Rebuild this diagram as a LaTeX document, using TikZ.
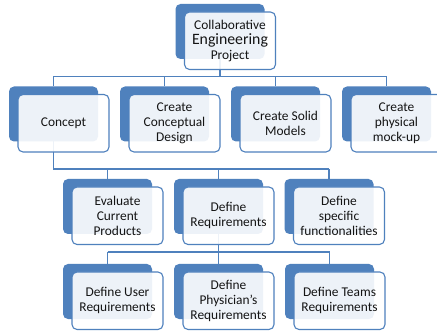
\documentclass[tikz,border=0pt]{standalone}
\usepackage{fontspec}
\setmainfont{Carlito}
\definecolor{sablue}{RGB}{79,129,189}
\pgfdeclarelayer{bg}
\pgfdeclarelayer{lines}
\pgfsetlayers{bg,lines,main}
\tikzset{
  backbox/.style={minimum width=89pt, minimum height=55pt, rounded corners=5pt,
    fill=sablue, inner sep=0pt, outer sep=0pt},
  frontbox/.style={minimum width=91pt, minimum height=57.5pt, rounded corners=5pt,
    draw=sablue, line width=1.1pt, fill=white, fill opacity=0.9, text opacity=1,
    align=center, inner sep=0pt, outer sep=0pt, font=\fontsize{13.4}{15}\selectfont, text=black!92},
  conn/.style={draw=sablue, line width=1.4pt}
}
\newcommand\smbox[4]{%
  \node[backbox] (#1B) at ({#2+44.5},{#3+27.5}) {};
  \node[frontbox] (#1F) at ({#2+54.5},{#3+36.75}) {#4};
}
\begin{document}
\begin{tikzpicture}[x=1pt,y=-1pt]
\useasboundingbox (0,0) rectangle (437,334);
\begin{pgfonlayer}{bg}
\fill[white] (0,0) rectangle (437,334);
\end{pgfonlayer}
% top
\smbox{top}{175.5}{4}{Collaborative\\{\fontsize{15.8}{16}\selectfont Engineering}\\Project}
% level 1
\smbox{concept}{9}{86.5}{Concept}
\smbox{design}{120}{86.5}{Create\\Conceptual\\Design}
\smbox{solid}{231}{86.5}{Create Solid\\Models}
\smbox{mock}{342}{86.5}{Create\\physical\\mock-up}
% level 2
\smbox{eval}{63}{179}{Evaluate\\Current\\Products}
\smbox{req}{174}{179}{Define\\Requirements}
\smbox{func}{284.5}{179}{Define\\specific\\functionalities}
% level 3
\smbox{user}{63}{264}{Define User\\Requirements}
\smbox{phys}{174}{264}{Define\\Physician’s\\Requirements}
\smbox{team}{285}{264}{Define Teams\\Requirements}
\coordinate (busA) at (0,76.5);
\coordinate (busB) at (0,169);
\coordinate (busC) at (0,252);
\begin{pgfonlayer}{lines}
% top -> level 1
\draw[conn] (topB.south) -- (topB.south |- busA);
\draw[conn] (conceptB.north |- busA) -- (mockB.north |- busA);
\foreach \n in {concept,design,solid,mock}
  \draw[conn] (\n B.north |- busA) -- (\n B.north);
% concept -> level 2
\draw[conn] (conceptB.south) -- (conceptB.south |- busB) -- (funcB.north |- busB);
\foreach \n in {eval,req,func}
  \draw[conn] (\n B.north |- busB) -- (\n B.north);
% requirements -> level 3
\draw[conn] (reqB.south) -- (reqB.south |- busC);
\draw[conn] (userB.north |- busC) -- (teamB.north |- busC);
\foreach \n in {user,phys,team}
  \draw[conn] (\n B.north |- busC) -- (\n B.north);
\end{pgfonlayer}
\end{tikzpicture}
\end{document}
